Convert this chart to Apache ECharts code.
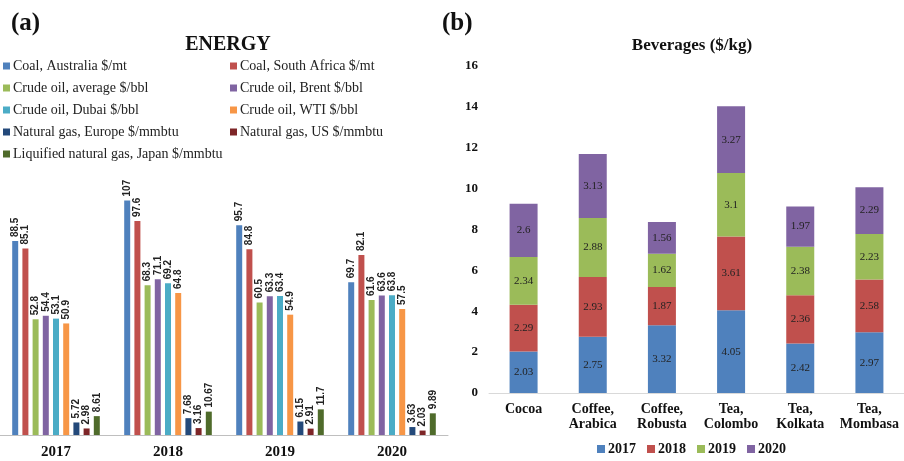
<!DOCTYPE html>
<html>
<head>
<meta charset="utf-8">
<script src="https://cdn.jsdelivr.net/npm/echarts@6/dist/echarts.min.js"></script>
<style>html,body{margin:0;padding:0;background:#fff}#c{width:904px;height:461px}</style>
</head>
<body>
<div id="c"></div>
<script>
// ---- Energy (a) ----
const energyYears = ['2017', '2018', '2019', '2020'];
const energyNames = [
  'Coal, Australia $/mt', 'Coal, South Africa $/mt',
  'Crude oil, average $/bbl', 'Crude oil, Brent $/bbl',
  'Crude oil, Dubai $/bbl', 'Crude oil, WTI $/bbl',
  'Natural gas, Europe $/mmbtu', 'Natural gas, US $/mmbtu',
  'Liquified natural gas, Japan $/mmbtu'
];
const coalAustralia = [88.5, 107, 95.7, 69.7];
const coalSouthAfrica = [85.1, 97.6, 84.8, 82.1];
const crudeAverage = [52.8, 68.3, 60.5, 61.6];
const crudeBrent = [54.4, 71.1, 63.3, 63.6];
const crudeDubai = [53.1, 69.2, 63.4, 63.8];
const crudeWTI = [50.9, 64.8, 54.9, 57.5];
const gasEurope = [5.72, 7.68, 6.15, 3.63];
const gasUS = [2.98, 3.16, 2.91, 2.03];
const lngJapan = [8.61, 10.67, 11.7, 9.89];
const energyValues = [coalAustralia, coalSouthAfrica, crudeAverage, crudeBrent, crudeDubai, crudeWTI, gasEurope, gasUS, lngJapan];

// ---- Beverages (b) ----
const bevCategories = ['Cocoa', 'Coffee,\nArabica', 'Coffee,\nRobusta', 'Tea,\nColombo', 'Tea,\nKolkata', 'Tea,\nMombasa'];
const bevYears = ['2017', '2018', '2019', '2020'];
const bev2017 = [2.03, 2.75, 3.32, 4.05, 2.42, 2.97];
const bev2018 = [2.29, 2.93, 1.87, 3.61, 2.36, 2.58];
const bev2019 = [2.34, 2.88, 1.62, 3.1, 2.38, 2.23];
const bev2020 = [2.6, 3.13, 1.56, 3.27, 1.97, 2.29];
const bevValues = [bev2017, bev2018, bev2019, bev2020];
const bevTicks = [0, 2, 4, 6, 8, 10, 12, 14, 16];

const energyColors = ['#4F81BD', '#C0504D', '#9BBB59', '#8064A2', '#4BACC6', '#F79646', '#23497A', '#7D2527', '#4F6B2B'];
const bevColors = ['#4F81BD', '#C0504D', '#9BBB59', '#8064A2'];

const serif = '"Liberation Serif", "Times New Roman", serif';

const legendPos = [
  [3, 59], [230, 59],
  [3, 81], [230, 81],
  [3, 103], [230, 103],
  [3, 125], [230, 125],
  [3, 147]
];

const legends = energyNames.map((n, i) => ({
  left: legendPos[i][0], top: legendPos[i][1],
  data: [n], icon: 'rect', itemWidth: 7, itemHeight: 7, padding: 0,
  itemGap: 0, selectedMode: false,
  textStyle: { fontFamily: serif, fontSize: 14, color: '#222', padding: [0, 0, 0, -2] }
}));
legends.push({
  left: 597, top: 442, data: bevYears, icon: 'rect', itemWidth: 8, itemHeight: 8,
  itemGap: 11, padding: 0, selectedMode: false,
  textStyle: { fontFamily: serif, fontSize: 14, fontWeight: 'bold', color: '#111', padding: [0, 0, 0, -2] }
});

const series = [];
energyNames.forEach((n, i) => {
  series.push({
    name: n, type: 'bar', xAxisIndex: 0, yAxisIndex: 0,
    data: energyValues[i], barWidth: 6, barGap: '70%',
    itemStyle: { color: energyColors[i] },
    label: {
      show: true, position: 'top', rotate: 90, align: 'left', verticalAlign: 'middle',
      distance: 4, fontFamily: '"Liberation Sans", Arial, sans-serif', fontSize: 10,
      fontWeight: 'bold', color: '#222'
    }
  });
});
bevYears.forEach((y, i) => {
  series.push({
    name: y, type: 'bar', xAxisIndex: 1, yAxisIndex: 1, stack: 'bev',
    data: bevValues[i], barWidth: 28,
    itemStyle: { color: bevColors[i] },
    label: { show: true, position: 'inside', fontFamily: serif, fontSize: 11, color: '#222' }
  });
});

const option = {
  animation: false,
  backgroundColor: '#fff',
  title: [
    { text: '(a)', left: 6, top: 6, textStyle: { fontFamily: serif, fontSize: 25, fontWeight: 'bold', color: '#111' } },
    { text: 'ENERGY', left: 223, top: 30, textAlign: 'center', textStyle: { fontFamily: serif, fontSize: 20, fontWeight: 'bold', color: '#111' } },
    { text: '(b)', left: 437, top: 6, textStyle: { fontFamily: serif, fontSize: 25, fontWeight: 'bold', color: '#111' } },
    { text: 'Beverages ($/kg)', left: 687, top: 32, textAlign: 'center', textStyle: { fontFamily: serif, fontSize: 17, fontWeight: 'bold', color: '#111' } }
  ],
  legend: legends,
  grid: [
    { left: 0, top: 172, width: 448, height: 263 },
    { left: 489, top: 66, width: 415, bottom: 68 }
  ],
  xAxis: [
    {
      gridIndex: 0, type: 'category', data: energyYears,
      axisTick: { show: false }, axisLine: { lineStyle: { color: '#bfbfbf' } },
      axisLabel: { fontFamily: serif, fontSize: 15, fontWeight: 'bold', color: '#111', margin: 10 }
    },
    {
      gridIndex: 1, type: 'category', data: bevCategories,
      axisTick: { show: false }, axisLine: { lineStyle: { color: '#d9d9d9' } },
      axisLabel: { fontFamily: serif, fontSize: 14, fontWeight: 'bold', color: '#111', margin: 9, lineHeight: 15, interval: 0 }
    }
  ],
  yAxis: [
    { gridIndex: 0, type: 'value', min: 0, max: 120, show: false },
    {
      gridIndex: 1, type: 'value', min: bevTicks[0], max: bevTicks[bevTicks.length - 1], interval: 2,
      axisLine: { show: false }, axisTick: { show: false }, splitLine: { show: false },
      axisLabel: { fontFamily: serif, fontSize: 13, fontWeight: 'bold', color: '#111', margin: 11 }
    }
  ],
  series: series
};

const chart = echarts.init(document.getElementById('c'), null, { renderer: 'canvas' });
chart.setOption(option);
</script>
</body>
</html>
